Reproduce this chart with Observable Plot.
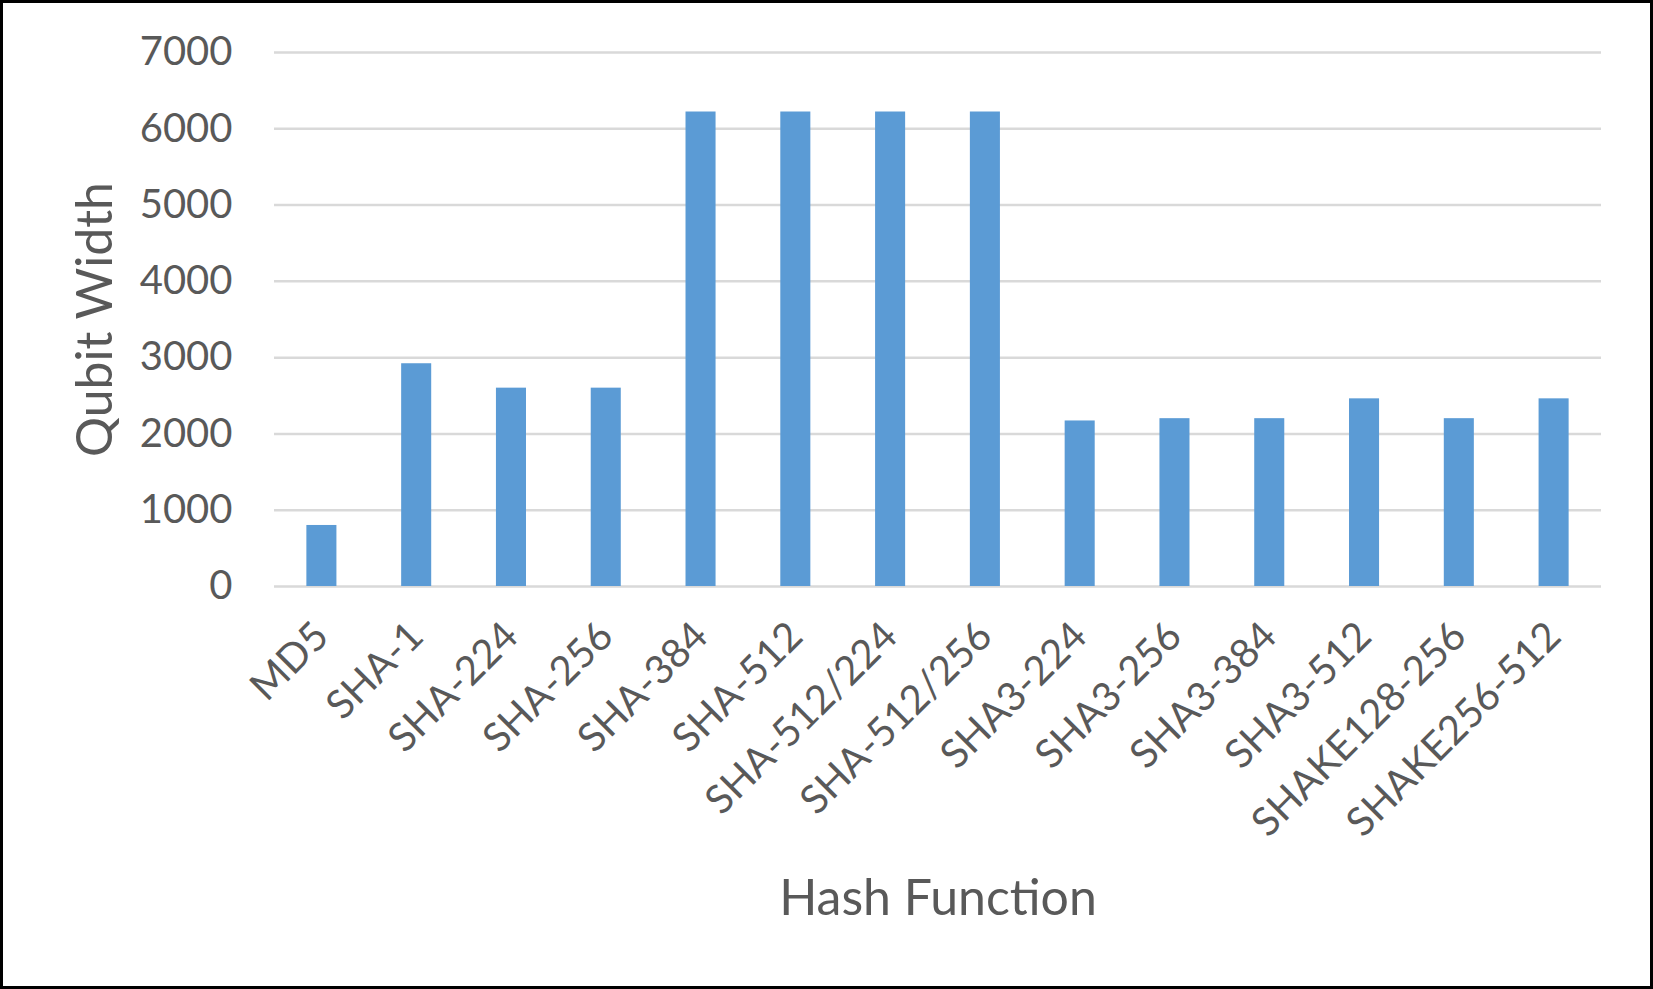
<!DOCTYPE html>
<html>
<head>
<meta charset="utf-8">
<script src="https://cdn.jsdelivr.net/npm/d3@7"></script>
<script src="https://cdn.jsdelivr.net/npm/@observablehq/plot@0.6"></script>
<style>
  html, body { margin: 0; padding: 0; background: #fff; }
  #wrap { position: relative; width: 1653px; height: 989px; }
  #border { position: absolute; left: 0; top: 0; width: 1653px; height: 989px; box-sizing: border-box; border: 3px solid #000; pointer-events: none; }
  svg { display: block; }
</style>
</head>
<body>
<div id="wrap"><div id="chart"></div><div id="border"></div></div>
<script>
const hashFunctions = ["MD5", "SHA-1", "SHA-224", "SHA-256", "SHA-384", "SHA-512", "SHA-512/224", "SHA-512/256", "SHA3-224", "SHA3-256", "SHA3-384", "SHA3-512", "SHAKE128-256", "SHAKE256-512"];
const qubitWidth = [800, 2920, 2600, 2600, 6220, 6220, 6220, 6220, 2170, 2200, 2200, 2460, 2200, 2460];
const yTicks = [0, 1000, 2000, 3000, 4000, 5000, 6000, 7000];
const xTitle = "Hash Function";
const yTitle = "Qubit Width";

const data = hashFunctions.map((h, i) => ({name: h, value: qubitWidth[i]}));
const font = "Lato, 'Open Sans', sans-serif";
const textColor = "#595959";

const chart = Plot.plot({
  width: 1653,
  height: 989,
  marginLeft: 274,
  marginRight: 52,
  marginTop: 52,
  marginBottom: 403,
  style: {fontFamily: font, color: textColor, background: "transparent"},
  x: {domain: hashFunctions, paddingInner: 0.683, paddingOuter: 0.3415, round: false, label: null},
  y: {domain: [0, 7000], label: null},
  marks: [
    Plot.gridY(yTicks, {stroke: "#d9d9d9", strokeOpacity: 1, strokeWidth: 2.5}),
    Plot.barY(data, {x: "name", y: "value", fill: "#5b9bd5"}),
    Plot.axisY(yTicks, {tickSize: 0, tickPadding: 42, fontSize: 40, fill: textColor, label: null, tickFormat: d => String(d)}),
    Plot.axisX({tickSize: 0, tickPadding: 43, tickRotate: -45, fontSize: 40, fill: textColor, label: null}),
    Plot.text([yTitle], {frameAnchor: "left", dx: -179, rotate: -90, fontSize: 50, fill: textColor, textAnchor: "middle", lineAnchor: "middle", text: d => d}),
    Plot.text([xTitle], {frameAnchor: "bottom", dy: 312, fontSize: 50, fill: textColor, textAnchor: "middle", lineAnchor: "middle", text: d => d})
  ]
});
document.getElementById("chart").appendChild(chart);
</script>
</body>
</html>
